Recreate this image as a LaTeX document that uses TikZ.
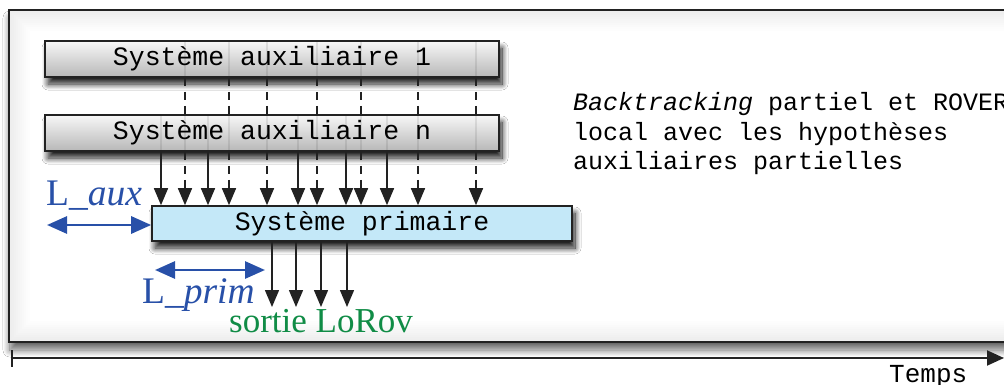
\documentclass[tikz,border=0pt]{standalone}
\usepackage{fontspec}
\setmainfont{Liberation Serif}
\setmonofont{Liberation Mono}
\usetikzlibrary{arrows.meta,shadows.blur}
\definecolor{myblue}{RGB}{40,80,168}
\definecolor{mygreen}{RGB}{16,140,70}
\definecolor{primfill}{RGB}{196,232,248}
\definecolor{edge}{RGB}{34,34,34}
\tikzset{
  boxshadow/.style={blur shadow={shadow xshift=3pt,shadow yshift=-7pt,shadow blur radius=6pt,shadow blur steps=14,shadow opacity=90}},
  frameshadow/.style={blur shadow={shadow xshift=1pt,shadow yshift=-8pt,shadow blur radius=7pt,shadow blur steps=14,shadow opacity=60}},
  auxbox/.style={draw=edge,line width=1.6pt,top color=black!3,bottom color=black!28,
    minimum width=454pt,minimum height=36pt,inner sep=0pt,
    font=\fontsize{26.5}{30}\selectfont\ttfamily,boxshadow},
  primbox/.style={draw=edge,line width=1.6pt,fill=primfill,
    minimum width=420pt,minimum height=35pt,inner sep=0pt,
    font=\fontsize{26.5}{30}\selectfont\ttfamily,boxshadow},
  tiphead/.style={-{Triangle[length=17pt,width=14pt]}},
  solidarr/.style={draw=edge,line width=1.5pt,tiphead},
  dasharr/.style={draw=edge,line width=1.5pt,dash pattern=on 8pt off 6pt,tiphead},
  dashseg/.style={draw=edge,line width=1.5pt,dash pattern=on 8pt off 6pt},
  faint/.style={draw=edge,line width=1.2pt,opacity=0.10},
  bluearr/.style={draw=myblue,line width=2.8pt,{Triangle[length=20pt,width=17pt]}-{Triangle[length=20pt,width=17pt]}},
  lbl/.style={anchor=base west,inner sep=0pt,font=\fontsize{37.5}{42}\selectfont},
  mono/.style={anchor=base west,inner sep=0pt,font=\fontsize{25}{29}\selectfont\ttfamily},
}
\begin{document}
\begin{tikzpicture}[x=1pt,y=-1pt]
\useasboundingbox (0,0) rectangle (1004,385);
\clip (0,0) rectangle (1004,385);
\fill[white] (0,0) rectangle (1004,385);
% outer frame
\path[frameshadow,fill=white] (9,10) rectangle (1030,342);
\foreach \i in {1,...,10}{
  \pgfmathsetmacro{\op}{0.075*(1-\i/11)}
  \draw[black,opacity=\op,line width=2pt] (9+2*\i,10+2*\i) rectangle (1030,342-2*\i);
}
\draw[edge,line width=2pt] (9,10) rectangle (1030,342);
% time axis
\coordinate (t0) at (12,358);
\coordinate (t1) at (1004,358);
\coordinate (tk0) at (12,350);
\coordinate (tk1) at (12,367);
\draw[edge,line width=2pt,-{Triangle[length=17pt,width=15pt]}] (t0) -- (t1);
\draw[edge,line width=2pt] (tk0) -- (tk1);
\node[mono,font=\fontsize{26}{30}\selectfont\ttfamily] (temps) at (889,382) {Temps};
% boxes
\node[auxbox] (aux1) at (272,59) {Système auxiliaire 1};
\node[auxbox] (auxn) at (272,133) {Système auxiliaire n};
\node[primbox] (prim) at (362,223.5) {Système primaire};
% column coordinates
\foreach \x in {161,185,208,229,267,298,317,346,361,387,418,476,272,296,321,347}{
  \coordinate (c\x) at (\x,0);
}
% dashed arrows (from auxiliary 1)
\foreach \x in {185,229,267,317,361,418,476}{
  \draw[dashseg] (aux1.south -| c\x) -- (auxn.north -| c\x);
  \draw[dasharr] (auxn.south -| c\x) -- (prim.north -| c\x);
  \draw[faint] (aux1.north -| c\x) -- (aux1.south -| c\x);
  \draw[faint] (auxn.north -| c\x) -- (auxn.south -| c\x);
}
% solid arrows (from auxiliary n)
\foreach \x in {161,208,298,346,387}{
  \draw[solidarr] (auxn.south -| c\x) -- (prim.north -| c\x);
  \draw[faint] (auxn.north -| c\x) -- (auxn.south -| c\x);
}
% output arrows
\coordinate (outb) at (0,307);
\foreach \x in {272,296,321,347}{
  \draw[solidarr] (prim.south -| c\x) -- (outb -| c\x);
}
% lengths
\coordinate (la0) at (47,225);
\draw[bluearr] (la0) -- (prim.west |- la0);
\coordinate (lp0) at (155,270);
\coordinate (lp1) at (265,270);
\draw[bluearr] (lp0) -- (lp1);
\node[lbl,text=myblue] (laux) at (46,205) {L\_\textit{aux}};
\node[lbl,text=myblue] (lprim) at (142,303) {L\_\textit{prim}};
\node[lbl,text=mygreen,font=\fontsize{35}{40}\selectfont] (sortie) at (229,332) {sortie LoRov};
% description
\node[mono] (d1) at (573,111) {\textit{Backtracking} partiel et ROVER};
\node[mono] (d2) at (573,140.5) {local avec les hypothèses};
\node[mono] (d3) at (573,170) {auxiliaires partielles};
\end{tikzpicture}
\end{document}
